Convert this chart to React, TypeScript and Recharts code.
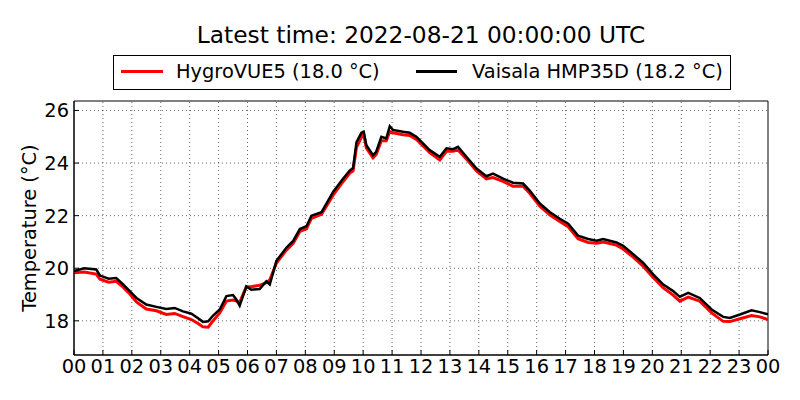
import React from 'react';
import { LineChart, Line, XAxis, YAxis, ReferenceLine, ReferenceArea } from 'recharts';

// hours since 00 UTC
const hours = [
  0.0, 0.35, 0.77, 0.9, 1.2, 1.46, 1.7, 1.93, 2.16, 2.5, 2.85, 3.19, 3.48, 3.77, 4.06, 4.29,
  4.46, 4.64, 4.81, 5.04, 5.27, 5.5, 5.62, 5.73, 5.96, 6.13, 6.42, 6.65, 6.77, 7.0, 7.35, 7.58,
  7.81, 8.04, 8.21, 8.56, 8.96, 9.31, 9.54, 9.65, 9.77, 9.94, 10.02, 10.11, 10.34, 10.45, 10.63,
  10.8, 10.92, 11.03, 11.38, 11.61, 11.84, 12.07, 12.3, 12.65, 12.88, 13.11, 13.28, 13.57, 13.92,
  14.26, 14.49, 14.84, 15.18, 15.53, 15.76, 16.11, 16.45, 16.8, 17.09, 17.43, 17.78, 18.07, 18.3,
  18.76, 18.99, 19.34, 19.68, 20.03, 20.38, 20.72, 20.95, 21.24, 21.64, 22.05, 22.45, 22.68,
  23.03, 23.43, 23.72, 24.0,
];

const hygroVue = [
  19.83, 19.86, 19.78, 19.58, 19.47, 19.5, 19.28, 19.02, 18.72, 18.45, 18.38, 18.24, 18.28, 18.16,
  18.05, 17.9, 17.77, 17.76, 18.0, 18.3, 18.75, 18.79, 18.75, 18.7, 19.3, 19.3, 19.35, 19.45,
  19.55, 20.2, 20.7, 20.95, 21.4, 21.5, 21.9, 22.05, 22.78, 23.3, 23.62, 23.7, 24.6, 25.0, 25.08,
  24.58, 24.2, 24.33, 24.85, 24.85, 25.2, 25.15, 25.08, 25.05, 24.9, 24.65, 24.4, 24.12, 24.45,
  24.45, 24.5, 24.15, 23.7, 23.4, 23.45, 23.3, 23.12, 23.12, 22.85, 22.36, 22.03, 21.78, 21.58,
  21.12, 20.98, 20.95, 21.0, 20.88, 20.73, 20.42, 20.08, 19.65, 19.25, 18.98, 18.75, 18.9, 18.75,
  18.3, 17.98, 17.97, 18.08, 18.2, 18.15, 18.05,
];

const vaisala = [
  19.89, 20.0, 19.95, 19.72, 19.6, 19.63, 19.38, 19.13, 18.87, 18.62, 18.53, 18.45, 18.49, 18.36,
  18.27, 18.1, 17.96, 17.98, 18.2, 18.43, 18.94, 18.98, 18.8, 18.58, 19.31, 19.18, 19.21, 19.5,
  19.38, 20.28, 20.79, 21.04, 21.49, 21.6, 22.0, 22.13, 22.9, 23.41, 23.72, 23.81, 24.8, 25.15,
  25.19, 24.68, 24.3, 24.43, 25.0, 24.94, 25.4, 25.26, 25.19, 25.15, 25.0, 24.75, 24.49, 24.24,
  24.56, 24.53, 24.62, 24.24, 23.79, 23.5, 23.6, 23.41, 23.25, 23.22, 22.95, 22.46, 22.14, 21.88,
  21.69, 21.24, 21.11, 21.05, 21.11, 20.98, 20.85, 20.53, 20.21, 19.77, 19.38, 19.13, 18.91, 19.06,
  18.87, 18.43, 18.15, 18.11, 18.24, 18.4, 18.33, 18.25,
];

const hourTicks = [0, 1, 2, 3, 4, 5, 6, 7, 8, 9, 10, 11, 12, 13, 14, 15, 16, 17, 18, 19, 20, 21, 22, 23, 24];
const hourLabels = [
  '00', '01', '02', '03', '04', '05', '06', '07', '08', '09', '10', '11', '12',
  '13', '14', '15', '16', '17', '18', '19', '20', '21', '22', '23', '00',
];
const tempTicks = [18, 20, 22, 24, 26];
const tempRange = [16.7, 26.36];

const data = hours.map((h, i) => ({ h, hygro: hygroVue[i], vaisala: vaisala[i] }));

const font = 'DejaVu Sans, sans-serif';
const tickStyle = { fontSize: 19.4, fill: '#000', fontFamily: font };
const gridLine = { stroke: '#000', strokeWidth: 0.6, strokeDasharray: '1 3' };

export default function App() {
  return (
    <div style={{ position: 'absolute', left: 0, top: 0, width: 800, height: 400, background: '#fff', fontFamily: font }}>
      <LineChart width={800} height={400} data={data} margin={{ top: 101, right: 32, bottom: 0, left: 0 }}>
        {hourTicks.slice(1, -1).map((t) => (
          <ReferenceLine key={'x' + t} x={t} {...gridLine} />
        ))}
        {tempTicks.map((t) => (
          <ReferenceLine key={'y' + t} y={t} {...gridLine} />
        ))}
        <XAxis
          dataKey="h"
          type="number"
          domain={[0, 24]}
          ticks={hourTicks}
          tickFormatter={(v, i) => hourLabels[i]}
          height={45}
          tickSize={-5}
          tickMargin={9}
          tick={tickStyle}
          stroke="#000"
          interval={0}
          allowDataOverflow
        />
        <YAxis
          type="number"
          domain={tempRange}
          ticks={tempTicks}
          width={74}
          tickSize={-5}
          tickMargin={10}
          tick={tickStyle}
          stroke="#000"
          interval={0}
          allowDataOverflow
          label={{ value: 'Temperature (°C)', angle: -90, position: 'insideLeft', offset: 29, style: { fontSize: 19.4, fill: '#000', fontFamily: font, textAnchor: 'middle' } }}
        />
        <ReferenceArea x1={0} x2={24} y1={tempRange[0]} y2={tempRange[1]} fill="none" stroke="#000" strokeWidth={1} />
        <Line dataKey="hygro" stroke="#ff0000" strokeWidth={3} dot={false} type="linear" isAnimationActive={false} />
        <Line dataKey="vaisala" stroke="#000" strokeWidth={2.5} dot={false} type="linear" isAnimationActive={false} />
      </LineChart>
      <div style={{ position: 'absolute', left: 421, top: 21, transform: 'translateX(-50%)', whiteSpace: 'nowrap', fontSize: 23.3, lineHeight: '27px', color: '#000' }}>
        Latest time: 2022-08-21 00:00:00 UTC
      </div>
      <div style={{ position: 'absolute', left: 113, top: 55, width: 616, height: 33, border: '1px solid #000', background: '#fff', fontSize: 19.4 }}>
        <div style={{ position: 'absolute', left: 7, top: 14, width: 42, height: 2.5, background: '#ff0000' }} />
        <div style={{ position: 'absolute', left: 62, top: 5, lineHeight: '22px', whiteSpace: 'nowrap' }}>HygroVUE5 (18.0 °C)</div>
        <div style={{ position: 'absolute', left: 302, top: 14, width: 41, height: 2.5, background: '#000' }} />
        <div style={{ position: 'absolute', left: 358, top: 5, lineHeight: '22px', whiteSpace: 'nowrap' }}>Vaisala HMP35D (18.2 °C)</div>
      </div>
    </div>
  );
}
